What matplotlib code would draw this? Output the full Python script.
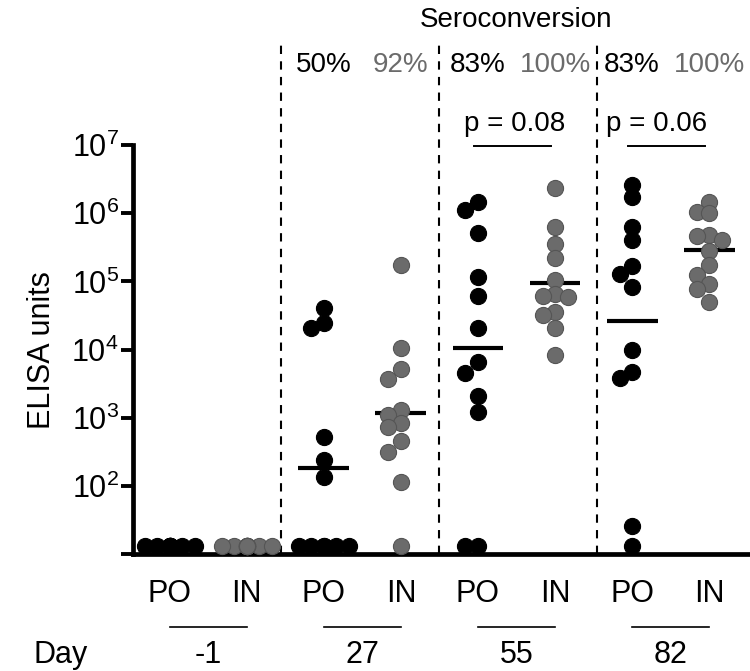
import numpy as np
import matplotlib
matplotlib.use('Agg')
import matplotlib.pyplot as plt
from matplotlib import transforms

plt.rcParams['font.family'] = ['Liberation Sans', 'DejaVu Sans']

# below-detection samples sit on the floor of the axis
LOD = 13

groups = ['PO', 'IN'] * 4
days = ['-1', '27', '55', '82']
seroconv = ['50%', '92%', '83%', '100%', '83%', '100%']
pvalues = ['p = 0.08', 'p = 0.06']

po_d1 = [LOD] * 12
in_d1 = [LOD] * 12
po_d27 = [4.1e4, 2.45e4, 2.1e4, 525, 240, 135] + [LOD] * 6
in_d27 = [1.74e5, 1.05e4, 5.2e3, 3.7e3, 1.3e3, 1.1e3, 830, 725, 450, 316, 115, LOD]
po_d55 = [1.45e6, 1.12e6, 5.2e5, 1.17e5, 6.2e4, 2.1e4, 6.6e3, 4.6e3, 2.1e3, 1.2e3, LOD, LOD]
in_d55 = [2.3e6, 6.3e5, 3.5e5, 2.2e5, 1.05e5, 6.5e4, 6.2e4, 6.0e4, 3.5e4, 3.2e4, 2.1e4, 8.3e3]
po_d82 = [2.6e6, 1.75e6, 6.3e5, 4.1e5, 1.7e5, 1.3e5, 8.3e4, 1.0e4, 4.7e3, 3.8e3, 26, LOD]
in_d82 = [1.45e6, 1.05e6, 1.0e6, 4.8e5, 4.7e5, 4.1e5, 2.8e5, 1.75e5, 1.23e5, 9.1e4, 7.8e4, 5.0e4]

series = [po_d1, in_d1, po_d27, in_d27, po_d55, in_d55, po_d82, in_d82]

BLACK = 'black'
GRAY = '#6b6b6b'
colors = [BLACK, GRAY] * 4


def swarm_x(ax, x0, vals, d=11.0, step=12.5, ncols=2):
    # greedy beeswarm in pixel space, largest values placed first
    vals = np.asarray(vals, dtype=float)
    pts = ax.transData.transform(np.column_stack([np.full(len(vals), x0), vals]))
    unit = ax.transData.transform((x0 + 1, vals[0]))[0] - pts[0, 0]
    cands = [0.0]
    for k in range(1, ncols + 1):
        cands += [-k * step, k * step]
    placed = []
    offs = np.zeros(len(vals))
    for i in np.argsort(-vals, kind='stable'):
        y = pts[i, 1]
        best, best_gap = None, -1.0
        for c in cands:
            gap = min((np.hypot(px - c, py - y) for px, py in placed), default=np.inf)
            if gap >= d:
                best = c
                break
            if gap > best_gap:
                best, best_gap = c, gap
        offs[i] = best
        placed.append((best, y))
    return x0 + offs / unit


fig = plt.figure(figsize=(7.5, 6.71), dpi=100)
ax = fig.add_axes([0.177, 0.174, 0.823, 0.610])
ax.set_yscale('log')
ax.set_ylim(10, 1e7)
ax.set_xlim(-0.48, 7.53)

# Scatter points and geometric means
for i, vals in enumerate(series):
    xs = swarm_x(ax, i, vals)
    ax.scatter(xs, vals, s=135, color=colors[i],
               edgecolor='#555555' if colors[i] == GRAY else 'black',
               linewidth=0.8, zorder=3, clip_on=False)
    if max(vals) > LOD:
        gm = np.exp(np.mean(np.log(vals)))
        ax.plot([i - 0.33, i + 0.33], [gm, gm], color='black', lw=3.0,
                solid_capstyle='butt', zorder=2)

# Axes styling
for side in ['top', 'right']:
    ax.spines[side].set_visible(False)
for side in ['left', 'bottom']:
    ax.spines[side].set_linewidth(3.4)
    ax.spines[side].set_capstyle('projecting')

ax.set_yticks([10 ** k for k in range(1, 8)])
ax.set_yticklabels([''] + [r'$\mathregular{10^{%d}}$' % k for k in range(2, 8)])
ax.yaxis.set_minor_locator(matplotlib.ticker.NullLocator())
ax.tick_params(axis='y', length=9, width=2.8, labelsize=22, pad=1)

ax.set_xticks(range(len(groups)))
ax.set_xticklabels(groups)
ax.tick_params(axis='x', length=0, labelsize=22, pad=18)

ax.set_ylabel('ELISA units', fontsize=22, labelpad=10)

blend = transforms.blended_transform_factory(ax.transData, ax.transAxes)

# Dashed separators between days
for xd in [1.45, 3.5, 5.55]:
    ax.plot([xd, xd], [0, 1.25], transform=blend, color='black', lw=1.5,
            ls=(0, (4, 3.5)), clip_on=False, zorder=1)

# Day underlines and labels
for k, day in enumerate(days):
    ax.plot([2 * k, 2 * k + 1], [-0.178, -0.178], transform=blend, color='black',
            lw=1.2, clip_on=False)
    ax.text(2 * k + 0.5, -0.245, day, transform=blend, ha='center', va='center',
            fontsize=22)
ax.text(-1.42, -0.245, 'Day', transform=blend, ha='center', va='center', fontsize=22)

# Seroconversion percentages
ax.text(4.5, 1.305, 'Seroconversion', transform=blend, ha='center', va='center',
        fontsize=20)
for j, lab in enumerate(seroconv):
    ax.text(j + 2, 1.195, lab, transform=blend, ha='center', va='center',
            fontsize=20, color=colors[j])

# p-values
for lab, xc, x0 in zip(pvalues, [4.48, 6.32], [4, 6]):
    ax.text(xc, 1.05, lab, transform=blend, ha='center', va='center', fontsize=20)
    ax.plot([x0 - 0.05, x0 + 1 - 0.05], [0.998, 0.998], transform=blend,
            color='black', lw=1.4, clip_on=False)

fig.savefig('out.png', dpi=100)
